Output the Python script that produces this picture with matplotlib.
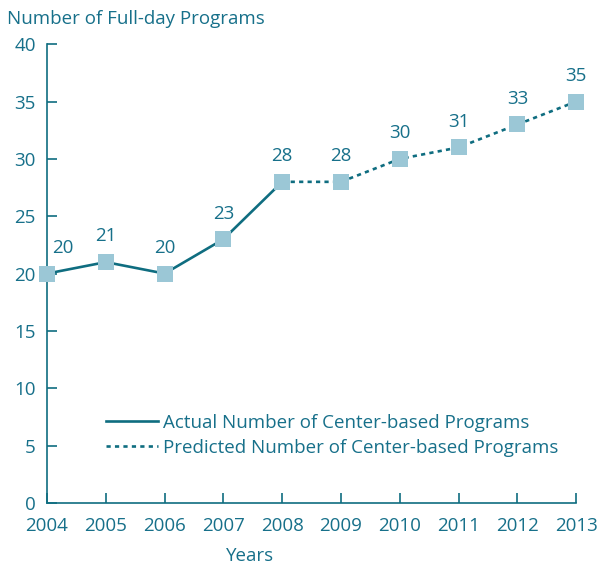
import matplotlib
matplotlib.use("Agg")
import matplotlib.pyplot as plt
from matplotlib.lines import Line2D

years = [2004, 2005, 2006, 2007, 2008, 2009, 2010, 2011, 2012, 2013]
programs = [20, 21, 20, 23, 28, 28, 30, 31, 33, 35]
actual_years = years[:5]
actual_vals = programs[:5]
pred_years = years[4:]
pred_vals = programs[4:]
yticks = [0, 5, 10, 15, 20, 25, 30, 35, 40]

teal = "#0f6d80"
marker_c = "#9bc7d6"
txt = "#17708a"
fs = 13.5

plt.rcParams["font.family"] = ["Open Sans", "DejaVu Sans"]

fig = plt.figure(figsize=(6.11, 5.67), dpi=100)
ax = fig.add_axes([0.077, 0.113, 0.866, 0.809])

ax.plot(actual_years, actual_vals, color=teal, lw=1.9, zorder=2, clip_on=False)
ax.plot(pred_years, pred_vals, color=teal, lw=1.9, linestyle=(0, (1.6, 1.6)),
        zorder=2, clip_on=False)
ax.plot(years, programs, linestyle="none", marker="s", ms=11, color=marker_c,
        markeredgewidth=0, zorder=3, clip_on=False)

for i, (x, v) in enumerate(zip(years, programs)):
    dx = 11 if i == 0 else 0
    ax.annotate(str(v), (x, v), xytext=(dx, 12), textcoords="offset points",
                ha="center", va="bottom", color=txt, fontsize=fs)

ax.set_xlim(2004, 2013)
ax.set_ylim(0, 40)
ax.set_xticks(years)
ax.set_yticks(yticks)
ax.tick_params(axis="both", direction="in", length=7, width=1.2, color=teal,
               labelcolor=txt, labelsize=fs)
ax.tick_params(axis="x", pad=10)
ax.tick_params(axis="y", pad=8)
for s in ["top", "right"]:
    ax.spines[s].set_visible(False)
for s in ["left", "bottom"]:
    ax.spines[s].set_color(teal)
    ax.spines[s].set_linewidth(1.2)

ax.set_xlabel("Years", color=txt, fontsize=fs)
ax.xaxis.set_label_coords(0.384, -0.097)
fig.text(0.012, 0.967, "Number of Full-day Programs", color=txt, fontsize=fs,
         ha="left", va="center")

handles = [Line2D([], [], color=teal, lw=1.9),
           Line2D([], [], color=teal, lw=1.9, linestyle=(0, (1.6, 1.6)))]
labels = ["Actual Number of Center-based Programs",
          "Predicted Number of Center-based Programs"]
leg = ax.legend(handles, labels, loc="lower left", bbox_to_anchor=(0.1115, 0.1),
                frameon=False, fontsize=fs, handlelength=2.77, handletextpad=0.27,
                labelspacing=0.4, borderaxespad=0, borderpad=0)
for t in leg.get_texts():
    t.set_color(txt)

fig.savefig("out.png", dpi=100)
